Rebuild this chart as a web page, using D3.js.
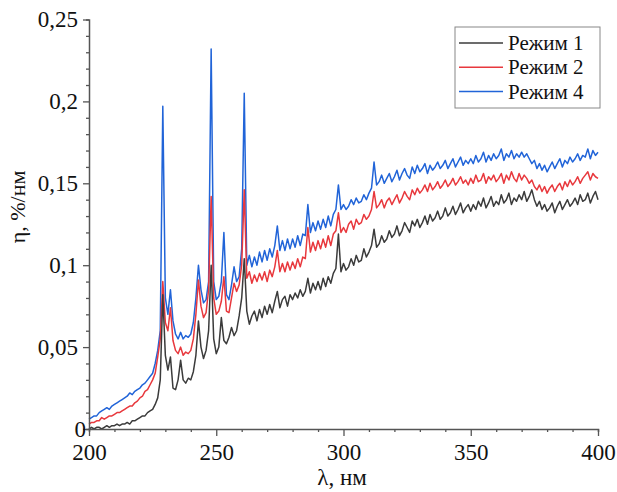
<!DOCTYPE html>
<html>
<head>
<meta charset="utf-8">
<script src="https://cdn.jsdelivr.net/npm/d3@7"></script>
<style>
  body { margin: 0; background: #fff; }
</style>
</head>
<body>
<div id="chart"></div>
<script>
const W = 617, H = 492
const FONT = "Liberation Serif"

// wavelength grid, 1 nm step
const lambda = d3.range(200, 401)

// Режим 1 (black)
const mode1 = [
  0.000, 0.001, 0.000, 0.001, 0.001, 0.000, 0.001, 0.002, 0.001, 0.002,
  0.002, 0.003, 0.002, 0.003, 0.003, 0.004, 0.003, 0.005, 0.005, 0.006,
  0.007, 0.008, 0.008, 0.010, 0.011, 0.012, 0.015, 0.019, 0.030, 0.082,
  0.045, 0.036, 0.044, 0.025, 0.024, 0.030, 0.042, 0.030, 0.028, 0.031,
  0.030, 0.035, 0.045, 0.066, 0.050, 0.043, 0.048, 0.060, 0.100, 0.055,
  0.046, 0.050, 0.068, 0.054, 0.052, 0.056, 0.062, 0.057, 0.060, 0.069,
  0.080, 0.104, 0.072, 0.064, 0.069, 0.072, 0.066, 0.073, 0.068, 0.075,
  0.070, 0.076, 0.071, 0.078, 0.084, 0.074, 0.079, 0.081, 0.075, 0.082,
  0.079, 0.083, 0.080, 0.085, 0.081, 0.084, 0.092, 0.083, 0.089, 0.085,
  0.090, 0.085, 0.092, 0.087, 0.093, 0.089, 0.095, 0.098, 0.119, 0.096,
  0.101, 0.097, 0.099, 0.104, 0.100, 0.106, 0.102, 0.103, 0.110, 0.105,
  0.108, 0.112, 0.122, 0.111, 0.113, 0.118, 0.114, 0.116, 0.121, 0.117,
  0.119, 0.124, 0.118, 0.121, 0.126, 0.123, 0.120, 0.127, 0.124, 0.128,
  0.123, 0.126, 0.130, 0.125, 0.131, 0.127, 0.129, 0.133, 0.128, 0.130,
  0.135, 0.130, 0.132, 0.136, 0.131, 0.134, 0.138, 0.132, 0.135, 0.137,
  0.133, 0.137, 0.134, 0.139, 0.136, 0.141, 0.135, 0.138, 0.142, 0.136,
  0.139, 0.137, 0.143, 0.138, 0.140, 0.144, 0.137, 0.141, 0.139, 0.143,
  0.140, 0.145, 0.139, 0.142, 0.146, 0.140, 0.136, 0.139, 0.134, 0.137,
  0.133, 0.135, 0.138, 0.132, 0.136, 0.139, 0.134, 0.137, 0.140, 0.136,
  0.138, 0.141, 0.137, 0.143, 0.139, 0.140, 0.144, 0.138, 0.142, 0.145,
  0.140
]

// Режим 2 (red)
const mode2 = [
  0.003, 0.004, 0.004, 0.005, 0.005, 0.007, 0.006, 0.007, 0.008, 0.008,
  0.009, 0.010, 0.010, 0.011, 0.012, 0.013, 0.014, 0.014, 0.016, 0.017,
  0.019, 0.020, 0.023, 0.024, 0.027, 0.030, 0.034, 0.044, 0.055, 0.090,
  0.065, 0.060, 0.074, 0.054, 0.048, 0.046, 0.050, 0.045, 0.047, 0.046,
  0.048, 0.055, 0.070, 0.091, 0.075, 0.068, 0.071, 0.085, 0.142, 0.080,
  0.070, 0.072, 0.078, 0.093, 0.072, 0.071, 0.080, 0.089, 0.084, 0.088,
  0.100, 0.146, 0.092, 0.096, 0.089, 0.094, 0.090, 0.095, 0.091, 0.096,
  0.090, 0.097, 0.093, 0.099, 0.109, 0.096, 0.101, 0.096, 0.102, 0.097,
  0.102, 0.098, 0.104, 0.099, 0.105, 0.104, 0.123, 0.108, 0.114, 0.109,
  0.115, 0.110, 0.116, 0.111, 0.118, 0.112, 0.119, 0.121, 0.132, 0.120,
  0.123, 0.120, 0.125, 0.127, 0.122, 0.128, 0.125, 0.126, 0.131, 0.128,
  0.130, 0.134, 0.145, 0.135, 0.137, 0.140, 0.135, 0.139, 0.141, 0.137,
  0.140, 0.143, 0.138, 0.141, 0.145, 0.142, 0.140, 0.146, 0.143, 0.147,
  0.144, 0.146, 0.149, 0.145, 0.150, 0.146, 0.148, 0.151, 0.147, 0.149,
  0.152, 0.148, 0.150, 0.153, 0.149, 0.151, 0.154, 0.150, 0.152, 0.149,
  0.153, 0.150, 0.155, 0.151, 0.152, 0.156, 0.150, 0.154, 0.152, 0.155,
  0.151, 0.153, 0.156, 0.150, 0.155, 0.152, 0.157, 0.153, 0.151, 0.156,
  0.152, 0.155, 0.153, 0.150, 0.152, 0.148, 0.146, 0.149, 0.145, 0.148,
  0.144, 0.147, 0.149, 0.145, 0.148, 0.150, 0.146, 0.151, 0.148, 0.152,
  0.149, 0.151, 0.154, 0.150, 0.153, 0.155, 0.157, 0.152, 0.156, 0.154,
  0.153
]

// Режим 4 (blue)
const mode4 = [
  0.006, 0.007, 0.008, 0.008, 0.010, 0.011, 0.012, 0.013, 0.012, 0.014,
  0.015, 0.016, 0.017, 0.018, 0.019, 0.020, 0.022, 0.021, 0.023, 0.024,
  0.025, 0.027, 0.028, 0.030, 0.032, 0.034, 0.040, 0.048, 0.060, 0.197,
  0.080, 0.070, 0.085, 0.066, 0.058, 0.055, 0.059, 0.055, 0.057, 0.056,
  0.058, 0.065, 0.080, 0.100, 0.085, 0.077, 0.079, 0.090, 0.232, 0.090,
  0.079, 0.081, 0.090, 0.120, 0.082, 0.079, 0.088, 0.099, 0.090, 0.093,
  0.110, 0.205, 0.100, 0.106, 0.099, 0.105, 0.100, 0.108, 0.102, 0.109,
  0.103, 0.110, 0.105, 0.112, 0.124, 0.109, 0.115, 0.109, 0.116, 0.110,
  0.116, 0.111, 0.118, 0.112, 0.119, 0.118, 0.137, 0.120, 0.126, 0.121,
  0.127, 0.122, 0.128, 0.123, 0.130, 0.124, 0.131, 0.134, 0.149, 0.134,
  0.137, 0.134, 0.136, 0.140, 0.137, 0.141, 0.138, 0.139, 0.143, 0.140,
  0.144, 0.147, 0.163, 0.149, 0.151, 0.155, 0.150, 0.153, 0.156, 0.151,
  0.154, 0.158, 0.152, 0.156, 0.159, 0.155, 0.153, 0.160, 0.156, 0.161,
  0.157, 0.159, 0.162, 0.156, 0.161, 0.158, 0.160, 0.163, 0.159, 0.161,
  0.164, 0.159, 0.162, 0.165, 0.160, 0.163, 0.166, 0.161, 0.164, 0.162,
  0.165, 0.162, 0.167, 0.163, 0.165, 0.169, 0.163, 0.167, 0.164, 0.168,
  0.165, 0.167, 0.171, 0.164, 0.168, 0.166, 0.170, 0.165, 0.168, 0.166,
  0.169, 0.166, 0.168, 0.165, 0.162, 0.164, 0.159, 0.162, 0.158, 0.161,
  0.157, 0.160, 0.163, 0.159, 0.162, 0.165, 0.160, 0.164, 0.162, 0.166,
  0.163, 0.165, 0.168, 0.164, 0.167, 0.166, 0.171, 0.165, 0.170, 0.167,
  0.169
]

const seriesNames = ["Режим 1", "Режим 2", "Режим 4"]
const seriesColors = ["#3b3b3b", "#e8383d", "#2164d8"]
const xTicks = [200, 250, 300, 350, 400]
const yTicks = [0, 0.05, 0.1, 0.15, 0.2, 0.25]

const svg = d3.select("#chart").append("svg")
    .attr("width", W)
    .attr("height", H)

let x = d3.scaleLinear().domain([200, 400]).range([89, 598])
let y = d3.scaleLinear().domain([0, 0.25]).range([429, 19.5])

const fmt = d => d === 0 ? "0" : String(d).replace(".", ",")

// curves: blue under, black on top
const all = [mode1, mode2, mode4]
const line = d3.line().x((d, i) => x(lambda[i])).y(d => y(d))
for (let k = 2; k >= 0; k--) {
    svg.append("path")
        .attr("d", line(all[k]))
        .attr("fill", "none")
        .attr("stroke", seriesColors[k])
        .attr("stroke-width", 1.5)
        .attr("stroke-linejoin", "round")
}

// axes
const axisColor = "#555"
const gx = svg.append("g").attr("transform", "translate(0,429)")
gx.call(d3.axisBottom(x).tickValues(d3.range(200, 401, 10)).tickSize(3).tickFormat(""))
gx.call(g => g.selectAll(".tick").filter(d => xTicks.includes(d)).select("line").attr("y2", 7))
gx.selectAll(".tick")
    .filter(d => xTicks.includes(d))
    .append("text")
    .attr("y", 31)
    .attr("text-anchor", "middle")
    .attr("fill", "#111")
    .attr("font-family", FONT)
    .attr("font-size", 23)
    .text(d => d)

const gy = svg.append("g").attr("transform", "translate(89,0)")
gy.call(d3.axisLeft(y).tickValues(d3.range(0, 26).map(d => d / 100)).tickSize(3).tickFormat(""))
gy.call(g => g.selectAll(".tick").filter(d => yTicks.some(t => Math.abs(t - d) < 1e-9)).select("line").attr("x2", -6))
gy.selectAll(".tick")
    .filter(d => yTicks.some(t => Math.abs(t - d) < 1e-9))
    .append("text")
    .attr("x", d => d === 0 ? -3 : -11)
    .attr("dy", "0.32em")
    .attr("text-anchor", "end")
    .attr("fill", "#111")
    .attr("font-family", FONT)
    .attr("font-size", 23)
    .text(d => fmt(d))

svg.selectAll(".domain").attr("stroke", axisColor).attr("stroke-width", 1.5)
svg.selectAll(".tick line").attr("stroke", axisColor).attr("stroke-width", 1.3)

// axis titles
svg.append("text")
    .attr("x", 342).attr("y", 485)
    .attr("text-anchor", "middle")
    .attr("fill", "#111")
    .attr("font-family", FONT)
    .attr("font-size", 23)
    .text("λ, нм")

svg.append("text")
    .attr("transform", "translate(25,207) rotate(-90)")
    .attr("text-anchor", "middle")
    .attr("fill", "#111")
    .attr("font-family", FONT)
    .attr("font-size", 22)
    .text("η, %/нм")

// legend
const lg = svg.append("g").attr("transform", "translate(455,27)")
lg.append("rect")
    .attr("width", 145).attr("height", 81)
    .attr("fill", "#fff")
    .attr("stroke", "#888")
    .attr("stroke-width", 1)
seriesNames.forEach((name, i) => {
    let cy = 16 + i * 24.3
    lg.append("line")
        .attr("x1", 4).attr("x2", 48)
        .attr("y1", cy).attr("y2", cy)
        .attr("stroke", seriesColors[i])
        .attr("stroke-width", 1.5)
    lg.append("text")
        .attr("x", 53).attr("y", cy)
        .attr("dy", "0.34em")
        .attr("fill", "#111")
        .attr("font-family", FONT)
        .attr("font-size", 21)
        .text(name)
})
</script>
</body>
</html>
